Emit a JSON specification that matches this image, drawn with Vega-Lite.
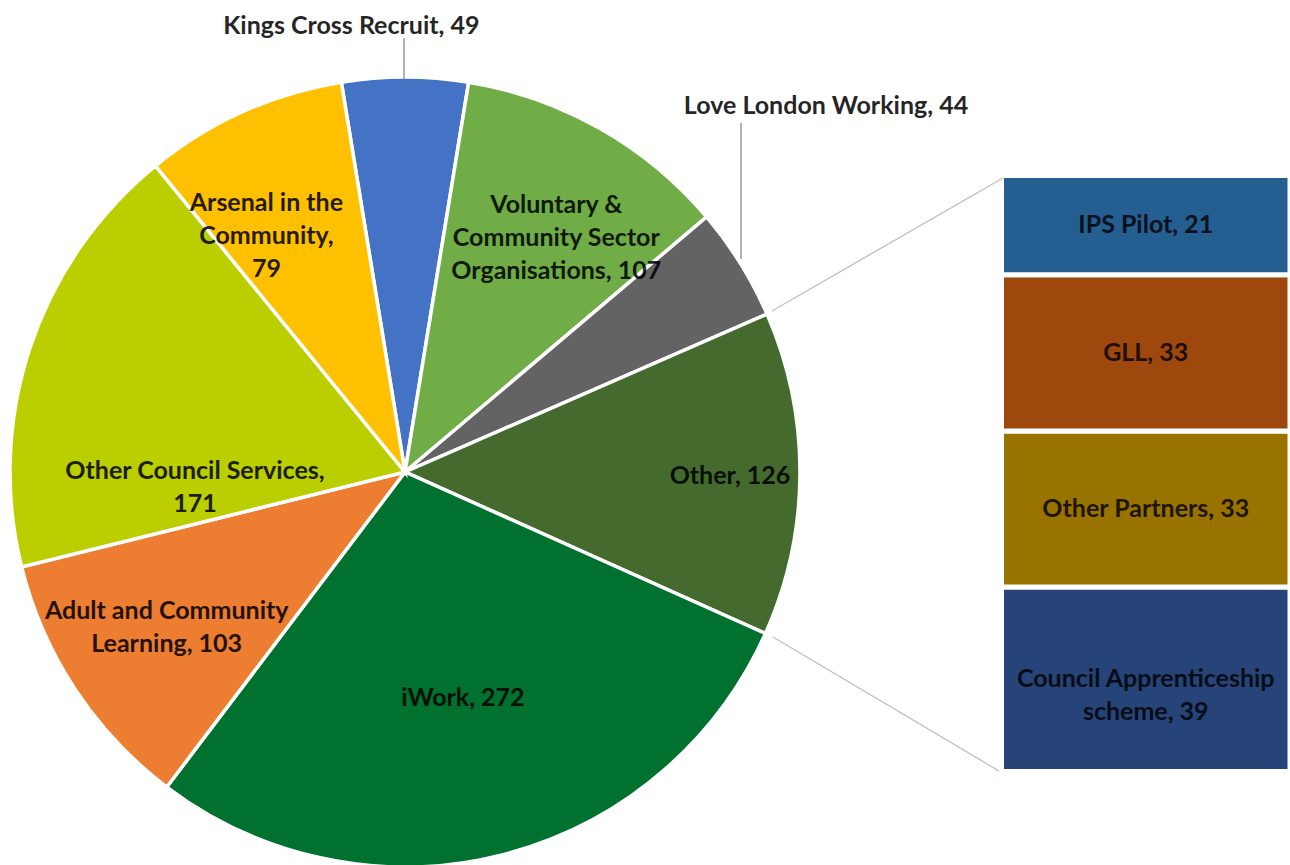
{
  "$schema": "https://vega.github.io/schema/vega-lite/v6.json",
  "width": 1290,
  "height": 865,
  "padding": 0,
  "autosize": {"type": "fit", "contains": "padding"},
  "config": {"view": {"stroke": null}},
  "datasets": {
    "pie": [
      {"source": "Kings Cross Recruit", "value": 49, "idx": 1, "label": "Kings Cross Recruit, 49"},
      {"source": "Voluntary & Community Sector Organisations", "value": 107, "idx": 2, "label": "Voluntary &\nCommunity Sector\nOrganisations, 107"},
      {"source": "Love London Working", "value": 44, "idx": 3, "label": "Love London Working, 44"},
      {"source": "Other", "value": 126, "idx": 4, "label": "Other, 126"},
      {"source": "iWork", "value": 272, "idx": 5, "label": "iWork, 272"},
      {"source": "Adult and Community Learning", "value": 103, "idx": 6, "label": "Adult and Community\nLearning, 103"},
      {"source": "Other Council Services", "value": 171, "idx": 7, "label": "Other Council Services,\n171"},
      {"source": "Arsenal in the Community", "value": 79, "idx": 8, "label": "Arsenal in the\nCommunity,\n79"}
    ],
    "other": [
      {"source": "Council Apprenticeship scheme", "value": 39, "idx": 1, "label": "Council Apprenticeship\nscheme, 39"},
      {"source": "Other Partners", "value": 33, "idx": 2, "label": "Other Partners, 33"},
      {"source": "GLL", "value": 33, "idx": 3, "label": "GLL, 33"},
      {"source": "IPS Pilot", "value": 21, "idx": 4, "label": "IPS Pilot, 21"}
    ]
  },
  "resolve": {"scale": {"x": "independent", "y": "independent"}},
  "layer": [
    {
      "data": {"name": "pie"},
      "mark": {"type": "arc", "radius": 395, "stroke": "#ffffff", "strokeWidth": 3.5, "clip": true},
      "encoding": {
        "x": {"datum": "pie", "type": "nominal", "scale": {"type": "point", "domain": ["pie"], "align": 0.31395}, "axis": null},
        "y": {"datum": "pie", "type": "nominal", "scale": {"type": "point", "domain": ["pie"], "align": 0.54566}, "axis": null},
        "theta": {"field": "value", "type": "quantitative", "stack": true, "scale": {"range": [-0.16187, 6.12132]}},
        "order": {"field": "idx"},
        "color": {"field": "source", "type": "nominal", "legend": null,
          "scale": {"domain": ["Kings Cross Recruit", "Voluntary & Community Sector Organisations", "Love London Working", "Other", "iWork", "Adult and Community Learning", "Other Council Services", "Arsenal in the Community", "Council Apprenticeship scheme", "Other Partners", "GLL", "IPS Pilot"],
                    "range": ["#4472C4", "#70AD47", "#636363", "#456A2D", "#00712E", "#ED7D31", "#BACE00", "#FFC000", "#264478", "#997300", "#9E480E", "#255E91"]}}
      }
    },
    {
      "data": {"name": "pie"},
      "mark": {"type": "text", "clip": true, "radius": 449, "font": "Lato", "fontWeight": "bold", "fontSize": 25, "lineBreak": "\n", "lineHeight": 33, "fill": "#000000", "opacity": 0.85, "align": "center", "baseline": "middle"},
      "encoding": {
        "x": {"datum": "pie", "type": "nominal", "scale": {"type": "point", "domain": ["pie"], "align": 0.31395}, "axis": null},
        "y": {"datum": "pie", "type": "nominal", "scale": {"type": "point", "domain": ["pie"], "align": 0.54566}, "axis": null},
        "theta": {"field": "value", "type": "quantitative", "stack": true, "bandPosition": 0.13},
        "order": {"field": "idx"},
        "text": {"condition": {"test": "datum.source == 'Kings Cross Recruit'", "field": "label"}, "value": ""}
      }
    },
    {
      "data": {"name": "pie"},
      "mark": {"type": "text", "clip": true, "radius": 307, "font": "Lato", "fontWeight": "bold", "fontSize": 25, "lineBreak": "\n", "lineHeight": 33, "fill": "#000000", "opacity": 0.85, "align": "center", "baseline": "middle"},
      "encoding": {
        "x": {"datum": "pie", "type": "nominal", "scale": {"type": "point", "domain": ["pie"], "align": 0.31395}, "axis": null},
        "y": {"datum": "pie", "type": "nominal", "scale": {"type": "point", "domain": ["pie"], "align": 0.54566}, "axis": null},
        "theta": {"field": "value", "type": "quantitative", "stack": true, "bandPosition": 0.5},
        "order": {"field": "idx"},
        "text": {"condition": {"test": "datum.source == 'Voluntary & Community Sector Organisations'", "field": "label"}, "value": ""}
      }
    },
    {
      "data": {"name": "pie"},
      "mark": {"type": "text", "clip": true, "radius": 325, "font": "Lato", "fontWeight": "bold", "fontSize": 25, "lineBreak": "\n", "lineHeight": 33, "fill": "#000000", "opacity": 0.85, "align": "center", "baseline": "middle"},
      "encoding": {
        "x": {"datum": "pie", "type": "nominal", "scale": {"type": "point", "domain": ["pie"], "align": 0.31395}, "axis": null},
        "y": {"datum": "pie", "type": "nominal", "scale": {"type": "point", "domain": ["pie"], "align": 0.54566}, "axis": null},
        "theta": {"field": "value", "type": "quantitative", "stack": true, "bandPosition": 0.51},
        "order": {"field": "idx"},
        "text": {"condition": {"test": "datum.source == 'Other'", "field": "label"}, "value": ""}
      }
    },
    {
      "data": {"name": "pie"},
      "mark": {"type": "text", "clip": true, "radius": 233, "font": "Lato", "fontWeight": "bold", "fontSize": 25, "lineBreak": "\n", "lineHeight": 33, "fill": "#000000", "opacity": 0.85, "align": "center", "baseline": "middle"},
      "encoding": {
        "x": {"datum": "pie", "type": "nominal", "scale": {"type": "point", "domain": ["pie"], "align": 0.31395}, "axis": null},
        "y": {"datum": "pie", "type": "nominal", "scale": {"type": "point", "domain": ["pie"], "align": 0.54566}, "axis": null},
        "theta": {"field": "value", "type": "quantitative", "stack": true, "bandPosition": 0.5},
        "order": {"field": "idx"},
        "text": {"condition": {"test": "datum.source == 'iWork'", "field": "label"}, "value": ""}
      }
    },
    {
      "data": {"name": "pie"},
      "mark": {"type": "text", "clip": true, "radius": 276, "font": "Lato", "fontWeight": "bold", "fontSize": 25, "lineBreak": "\n", "lineHeight": 33, "fill": "#000000", "opacity": 0.85, "align": "center", "baseline": "middle"},
      "encoding": {
        "x": {"datum": "pie", "type": "nominal", "scale": {"type": "point", "domain": ["pie"], "align": 0.31395}, "axis": null},
        "y": {"datum": "pie", "type": "nominal", "scale": {"type": "point", "domain": ["pie"], "align": 0.54566}, "axis": null},
        "theta": {"field": "value", "type": "quantitative", "stack": true, "bandPosition": 0.58},
        "order": {"field": "idx"},
        "text": {"condition": {"test": "datum.source == 'Adult and Community Learning'", "field": "label"}, "value": ""}
      }
    },
    {
      "data": {"name": "pie"},
      "mark": {"type": "text", "clip": true, "radius": 210, "font": "Lato", "fontWeight": "bold", "fontSize": 25, "lineBreak": "\n", "lineHeight": 33, "fill": "#000000", "opacity": 0.85, "align": "center", "baseline": "middle"},
      "encoding": {
        "x": {"datum": "pie", "type": "nominal", "scale": {"type": "point", "domain": ["pie"], "align": 0.31395}, "axis": null},
        "y": {"datum": "pie", "type": "nominal", "scale": {"type": "point", "domain": ["pie"], "align": 0.54566}, "axis": null},
        "theta": {"field": "value", "type": "quantitative", "stack": true, "bandPosition": 0.22},
        "order": {"field": "idx"},
        "text": {"condition": {"test": "datum.source == 'Other Council Services'", "field": "label"}, "value": ""}
      }
    },
    {
      "data": {"name": "pie"},
      "mark": {"type": "text", "clip": true, "radius": 303, "font": "Lato", "fontWeight": "bold", "fontSize": 25, "lineBreak": "\n", "lineHeight": 33, "fill": "#000000", "opacity": 0.85, "align": "center", "baseline": "middle"},
      "encoding": {
        "x": {"datum": "pie", "type": "nominal", "scale": {"type": "point", "domain": ["pie"], "align": 0.31395}, "axis": null},
        "y": {"datum": "pie", "type": "nominal", "scale": {"type": "point", "domain": ["pie"], "align": 0.54566}, "axis": null},
        "theta": {"field": "value", "type": "quantitative", "stack": true, "bandPosition": 0.4},
        "order": {"field": "idx"},
        "text": {"condition": {"test": "datum.source == 'Arsenal in the Community'", "field": "label"}, "value": ""}
      }
    },
    {
      "data": {"name": "pie"},
      "transform": [{"filter": "datum.source == 'Love London Working'"}],
      "mark": {"type": "text", "font": "Lato", "fontWeight": "bold", "fontSize": 25, "fill": "#000000", "opacity": 0.85, "align": "center", "baseline": "middle"},
      "encoding": {
        "x": {"datum": 174.63, "type": "quantitative", "scale": {"domain": [0, 272.73], "nice": false, "zero": false}, "axis": null},
        "y": {"datum": 140.7, "type": "quantitative", "scale": {"domain": [-19.77, 163.1], "nice": false, "zero": false}, "axis": null},
        "text": {"field": "label"}
      }
    },
    {
      "data": {"name": "other"},
      "mark": {"type": "bar", "stroke": "#ffffff", "strokeWidth": 5, "clip": true},
      "encoding": {
        "x": {"datum": "bar", "type": "nominal", "scale": {"type": "band", "domain": ["bar"], "paddingInner": 0.42386, "paddingOuter": 1, "align": 1}, "axis": null},
        "y": {"field": "value", "type": "quantitative", "stack": "zero", "scale": {"domain": [-19.77, 163.1], "nice": false, "zero": false}, "axis": null},
        "order": {"field": "idx"},
        "color": {"field": "source", "type": "nominal", "legend": null}
      }
    },
    {
      "data": {"name": "other"},
      "mark": {"type": "text", "font": "Lato", "fontWeight": "bold", "fontSize": 25, "lineBreak": "\n", "lineHeight": 33, "fill": "#000000", "opacity": 0.8, "align": "center", "baseline": "middle"},
      "encoding": {
        "x": {"datum": "bar", "type": "nominal", "scale": {"type": "band", "domain": ["bar"], "paddingInner": 0.42386, "paddingOuter": 1, "align": 1}, "axis": null},
        "y": {"field": "value", "type": "quantitative", "stack": "zero", "bandPosition": 0.5, "scale": {"domain": [-19.77, 163.1], "nice": false, "zero": false}, "axis": null},
        "order": {"field": "idx"},
        "text": {"field": "label"}
      }
    },
    {
      "data": {"values": [{}]},
      "mark": {"type": "rule", "color": "#8c8c8c", "strokeWidth": 1.3},
      "encoding": {
        "x": {"datum": 85.41, "type": "quantitative", "scale": {"domain": [0, 272.73], "nice": false, "zero": false}, "axis": null},
        "y": {"datum": 155.07, "type": "quantitative", "scale": {"domain": [-19.77, 163.1], "nice": false, "zero": false}, "axis": null},
        "x2": {"datum": 85.41},
        "y2": {"datum": 146.41}
      }
    },
    {
      "data": {"values": [{}]},
      "mark": {"type": "rule", "color": "#8c8c8c", "strokeWidth": 1.3},
      "encoding": {
        "x": {"datum": 156.66, "type": "quantitative", "scale": {"domain": [0, 272.73], "nice": false, "zero": false}, "axis": null},
        "y": {"datum": 137.1, "type": "quantitative", "scale": {"domain": [-19.77, 163.1], "nice": false, "zero": false}, "axis": null},
        "x2": {"datum": 156.66},
        "y2": {"datum": 108.35}
      }
    },
    {
      "data": {"values": [{}]},
      "mark": {"type": "rule", "color": "#bfbfbf", "strokeWidth": 1.3},
      "encoding": {
        "x": {"datum": 163.21, "type": "quantitative", "scale": {"domain": [0, 272.73], "nice": false, "zero": false}, "axis": null},
        "y": {"datum": 97.36, "type": "quantitative", "scale": {"domain": [-19.77, 163.1], "nice": false, "zero": false}, "axis": null},
        "x2": {"datum": 212.05},
        "y2": {"datum": 125.48}
      }
    },
    {
      "data": {"values": [{}]},
      "mark": {"type": "rule", "color": "#bfbfbf", "strokeWidth": 1.3},
      "encoding": {
        "x": {"datum": 163.42, "type": "quantitative", "scale": {"domain": [0, 272.73], "nice": false, "zero": false}, "axis": null},
        "y": {"datum": 28.44, "type": "quantitative", "scale": {"domain": [-19.77, 163.1], "nice": false, "zero": false}, "axis": null},
        "x2": {"datum": 211.21},
        "y2": {"datum": 0.11}
      }
    }
  ]
}
